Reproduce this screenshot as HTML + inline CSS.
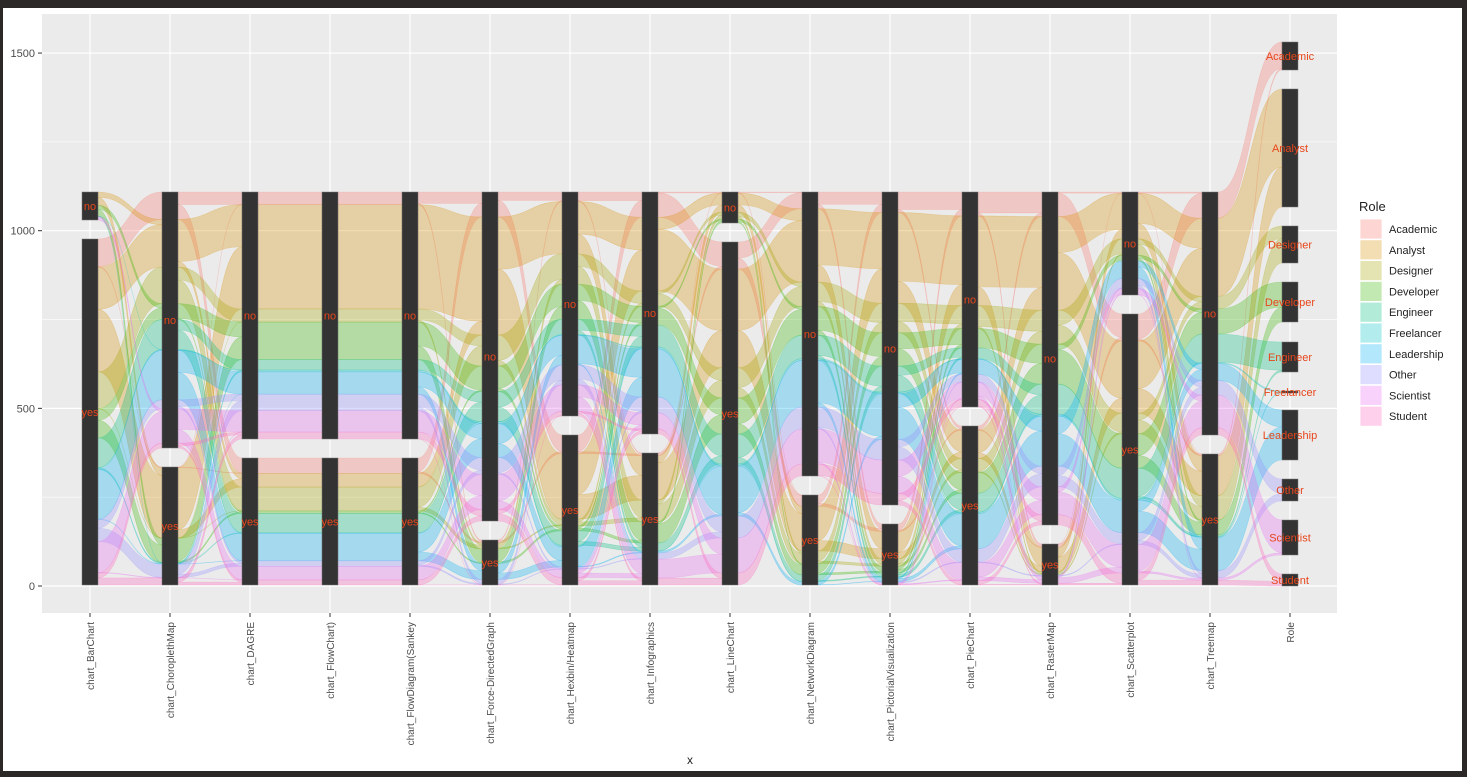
<!DOCTYPE html>
<html><head><meta charset="utf-8"><style>
html,body{margin:0;padding:0;background:#2b2827;}
svg{display:block;font-family:"Liberation Sans",sans-serif;}
</style></head><body>
<svg id="s" width="1467" height="777" xmlns="http://www.w3.org/2000/svg"></svg>
<script>
const S=document.getElementById('s');let h='';
h+='<rect x="3" y="8" width="1459" height="763" fill="#fff"/>';
h+='<rect x="42" y="14" width="1295" height="599" fill="#EBEBEB"/>';
const Y=v=>586-v*0.3553;
[250,750,1250].forEach(v=>h+=`<line x1="42" x2="1337" y1="${Y(v)}" y2="${Y(v)}" stroke="#fff" stroke-width="0.6"/>`);
[0,500,1000,1500].forEach(v=>{h+=`<line x1="42" x2="1337" y1="${Y(v)}" y2="${Y(v)}" stroke="#fff" stroke-width="1.2"/>`;
h+=`<line x1="38" x2="42" y1="${Y(v)}" y2="${Y(v)}" stroke="#333" stroke-width="1"/>`;
h+=`<text x="35" y="${Y(v)+4}" font-size="11" fill="#4d4d4d" text-anchor="end">${v}</text>`;});
const names=["chart_BarChart","chart_ChoroplethMap","chart_DAGRE","chart_FlowChart)","chart_FlowDiagram(Sankey","chart_Force-DirectedGraph","chart_Hexbin/Heatmap","chart_Infographics","chart_LineChart","chart_NetworkDiagram","chart_PictorialVisualization","chart_PieChart","chart_RasterMap","chart_Scatterplot","chart_Treemap","Role"];
const X=i=>90+80*i;
for(let i=0;i<16;i++){h+=`<line x1="${X(i)}" x2="${X(i)}" y1="14" y2="613" stroke="#fff" stroke-width="1.2"/>`;
h+=`<line x1="${X(i)}" x2="${X(i)}" y1="613" y2="617" stroke="#333"/>`;
h+=`<text transform="translate(${X(i)+4},622) rotate(-90)" font-size="10" fill="#4d4d4d" text-anchor="end">${names[i]}</text>`;}
h+='<text x="690" y="764" font-size="12" fill="#222" text-anchor="middle">x</text>';
const roles=["Academic","Analyst","Designer","Developer","Engineer","Freelancer","Leadership","Other","Scientist","Student"];
const cols=["#F8766D","#D89000","#A3A500","#39B600","#00BF7D","#00BFC4","#00B0F6","#9590FF","#E76BF3","#FF62BC"];
const n=[28,118,37,40,30,2,50,22,35,12];const T=374;
const rTop=[42,89,226,282,342,391,410,479,520,574];
const noH=[28,256,247,247,247,329,224,242,31,284,313,215,333,103,243];
const p=[];
for(let i=0;i<15;i++){
 const f=noH[i]/T;const ii=(i==3||i==4)?2:i;
 const q0=n.map((_,r)=>f+0.3*Math.sin(r*2.7+ii*1.9+r*ii*0.37));
 const cl=v=>Math.max(0,Math.min(1,v));
 let lo=-2,hi=2;
 for(let k=0;k<60;k++){const dd=(lo+hi)/2;let s=0;q0.forEach((v,r)=>s+=n[r]*cl(v+dd));if(s<noH[i])lo=dd;else hi=dd;}
 const d=(lo+hi)/2;p.push(q0.map(v=>cl(v+d)));}
const P=(r,i,a)=>a==0?p[i][r]:1-p[i][r];
const sTop=(i,a)=>a==0?192:192+noH[i]+19;
function flow(x1,a1,b1,x2,a2,b2,c){x1+=8;x2-=8;const m=(x1+x2)/2;
 return `<path d="M${x1},${a1}C${m},${a1} ${m},${a2} ${x2},${a2}L${x2},${b2}C${m},${b2} ${m},${b1} ${x1},${b1}Z" fill="${c}" fill-opacity="0.3" stroke="${c}" stroke-opacity="0.25" stroke-width="0.6"/>`;}
let fl=[];
for(let i=0;i<14;i++){
 const same=noH[i]==noH[i+1];
 const W=(r,a,b)=>same?(a==b?n[r]*P(r,i,a):0):n[r]*P(r,i,a)*P(r,i+1,b);
 const L={},R={};
 for(let a=0;a<2;a++){let y=sTop(i,a);for(let r=0;r<10;r++)for(let b=0;b<2;b++){L[r+'_'+a+'_'+b]=y;y+=W(r,a,b);}}
 for(let b=0;b<2;b++){let y=sTop(i+1,b);for(let r=0;r<10;r++)for(let a=0;a<2;a++){R[r+'_'+a+'_'+b]=y;y+=W(r,a,b);}}
 for(let r=0;r<10;r++)for(let a=0;a<2;a++)for(let b=0;b<2;b++){const w=W(r,a,b);if(!(w>=0.05))continue;const k=r+'_'+a+'_'+b;
  fl.push(flow(X(i),L[k],L[k]+w,X(i+1),R[k],R[k]+w,cols[r]));}
}
{const i=14;const L={};
 for(let a=0;a<2;a++){let y=sTop(i,a);for(let r=0;r<10;r++){L[r+'_'+a]=y;y+=n[r]*P(r,i,a);}}
 for(let r=0;r<10;r++){let y=rTop[r];for(let a=0;a<2;a++){const w=n[r]*P(r,i,a);if(!(w>=0.05))continue;
  fl.push(flow(X(i),L[r+'_'+a],L[r+'_'+a]+w,X(15),y,y+w,cols[r]));y+=w;}}}
h+=fl.join('');
const lab='#E8461A';
for(let i=0;i<15;i++){
 const a0=192,a1=192+noH[i],b0=a1+19,b1=585;
 h+=`<rect x="${X(i)-8}" y="${a0}" width="16" height="${a1-a0}" fill="#333" stroke="#777" stroke-width="0.5"/>`;
 h+=`<rect x="${X(i)-8}" y="${b0}" width="16" height="${b1-b0}" fill="#333" stroke="#777" stroke-width="0.5"/>`;
 h+=`<text x="${X(i)}" y="${(a0+a1)/2+4}" font-size="11" fill="${lab}" text-anchor="middle">no</text>`;
 h+=`<text x="${X(i)}" y="${(b0+b1)/2+4}" font-size="11" fill="${lab}" text-anchor="middle">yes</text>`;}
for(let r=0;r<10;r++){
 h+=`<rect x="1282" y="${rTop[r]}" width="16" height="${n[r]}" fill="#333" stroke="#777" stroke-width="0.5"/>`;
 h+=`<text x="1290" y="${rTop[r]+n[r]/2+4}" font-size="11" fill="${lab}" text-anchor="middle">${roles[r]}</text>`;}
h+='<text x="1359" y="211" font-size="13" fill="#222">Role</text>';
for(let r=0;r<10;r++){const y=219+r*20.8;
 h+=`<rect x="1360" y="${y}" width="22" height="20" fill="${cols[r]}" fill-opacity="0.3" stroke="#fff" stroke-width="0.8"/>`;
 h+=`<text x="1389" y="${y+14}" font-size="11" fill="#222">${roles[r]}</text>`;}
S.innerHTML=h;
</script>
</body></html>
